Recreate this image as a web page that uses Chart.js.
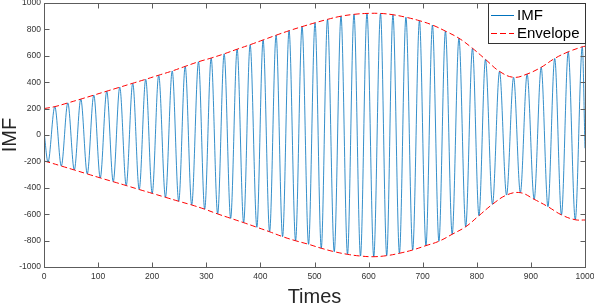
<!DOCTYPE html>
<html>
<head>
<meta charset="utf-8">
<script src="https://cdn.jsdelivr.net/npm/chart.js@4.4.1/dist/chart.umd.min.js"></script>
<style>
    html, body { margin: 0; padding: 0; background: #fff; }
</style>
</head>
<body>
<canvas id="imf_Chart" width="594" height="304"></canvas>
<script>
// values
const peakTimes   = [20, 44, 68, 92, 116, 140, 164, 188, 212, 237, 261, 285.6, 309, 333, 357, 381, 405, 429, 453, 477, 501, 524, 549, 573, 597, 622, 645, 669, 694, 718, 742, 767, 792, 816, 842, 868, 893, 919, 944, 969, 995];
const peakValues  = [215, 243, 272, 302, 332, 362, 392, 422, 453, 485, 520, 555, 583, 615, 650, 684, 720, 756, 790, 821, 850, 876, 900, 914, 921, 921, 911, 892, 866, 833, 787, 733, 657, 573, 482, 437, 462, 513, 580, 630, 668];
const troughTimes = [7.4, 32, 56, 80, 104, 128, 152, 176, 200, 224.5, 249, 273, 297, 321, 345, 369, 393.5, 417, 441, 465, 489, 512.5, 536.5, 561, 585, 609.5, 633.5, 657, 681.5, 706, 730, 754.5, 779.5, 804, 829, 855, 880.5, 906, 931.5, 956.5, 982];
const troughValues = [-205, -235, -265, -295, -325, -354, -383, -413, -442, -472, -502, -530, -562, -598, -631, -664, -699, -733, -770, -801, -828, -858, -884, -904, -917, -922, -914, -896, -871, -838, -805, -752, -695, -611, -525, -455, -437, -487, -543, -605, -642];
const imfEnds   = [30, -100];     // at t=0 and t=1000
const upperEnds = [200, 672];
const lowerEnds = [-197, -644];

const xTicks = [0, 100, 200, 300, 400, 500, 600, 700, 800, 900, 1000];
const yTicks = [-1000, -800, -600, -400, -200, 0, 200, 400, 600, 800, 1000];

const blue = 'rgb(0,114,189)';
const red = 'rgb(255,0,0)';
const axisGrey = '#5c5c5c';
const fontFam = '"Liberation Sans", Arial, sans-serif';

function pts(times, vals) {
    return times.map((t, i) => ({x: t, y: vals[i]}));
}

const imfData = [{x: 0, y: imfEnds[0]}]
    .concat(pts(peakTimes, peakValues), pts(troughTimes, troughValues))
    .concat([{x: 1000, y: imfEnds[1]}])
    .sort((a, b) => a.x - b.x);
const upperData = [{x: 0, y: upperEnds[0]}].concat(pts(peakTimes, peakValues), [{x: 1000, y: upperEnds[1]}]);
const lowerData = [{x: 0, y: lowerEnds[0]}].concat(pts(troughTimes, troughValues), [{x: 1000, y: lowerEnds[1]}]);

// matlab style box with inward ticks, plus the legend box
const framePlugin = {
    id: 'frame',
    afterDraw(chart) {
        const c = chart.ctx;
        const a = chart.chartArea;
        const L = Math.floor(a.left) + 0.5, R = Math.floor(a.right) + 0.5;
        const T = Math.floor(a.top) + 0.5, B = Math.floor(a.bottom) + 0.5;
        c.save();
        c.strokeStyle = axisGrey;
        c.lineWidth = 1;
        c.strokeRect(L, T, R - L, B - T);
        c.beginPath();
        xTicks.forEach(v => {
            const px = Math.round(chart.scales.x.getPixelForValue(v)) + 0.5;
            c.moveTo(px, B); c.lineTo(px, B - 5);
            c.moveTo(px, T); c.lineTo(px, T + 5);
        });
        yTicks.forEach(v => {
            const py = Math.round(chart.scales.y.getPixelForValue(v)) + 0.5;
            c.moveTo(L, py); c.lineTo(L + 5, py);
            c.moveTo(R, py); c.lineTo(R - 5, py);
        });
        c.stroke();

        // legend
        const bx = 488.5, by = T, bw = R - 488.5, bh = 40;
        c.fillStyle = '#fff';
        c.fillRect(bx, by, bw, bh);
        c.strokeStyle = '#333';
        c.strokeRect(bx, by, bw, bh);
        const rows = [
            {label: chart.data.datasets[0].label, color: blue, dash: [], y: 15.5},
            {label: chart.data.datasets[1].label, color: red, dash: [6, 3], y: 33.5}
        ];
        c.font = '15px ' + fontFam;
        c.textBaseline = 'middle';
        rows.forEach(r => {
            c.strokeStyle = r.color;
            c.setLineDash(r.dash);
            c.beginPath();
            c.moveTo(491, r.y); c.lineTo(514, r.y);
            c.stroke();
            c.setLineDash([]);
            c.fillStyle = '#000';
            c.fillText(r.label, 517, r.y);
        });
        c.restore();
    }
};

new Chart(document.getElementById('imf_Chart'), {
    type: 'line',
    data: {
        datasets: [
            {
                label: 'IMF',
                data: imfData,
                borderColor: blue,
                borderWidth: 0.8,
                pointRadius: 0,
                cubicInterpolationMode: 'monotone',
                order: 2
            },
            {
                label: 'Envelope',
                data: upperData,
                borderColor: red,
                borderWidth: 1,
                borderDash: [6, 3],
                pointRadius: 0,
                tension: 0.4,
                order: 1
            },
            {
                label: 'Envelope',
                data: lowerData,
                borderColor: red,
                borderWidth: 1,
                borderDash: [6, 3],
                pointRadius: 0,
                tension: 0.4,
                order: 1
            }
        ]
    },
    options: {
        responsive: false,
        animation: false,
        devicePixelRatio: 1,
        layout: { padding: { left: 0, right: 9, top: 3, bottom: 0 } },
        plugins: {
            legend: { display: false },
            tooltip: { enabled: false }
        },
        scales: {
            x: {
                type: 'linear',
                min: 0,
                max: 1000,
                afterBuildTicks: s => { s.ticks = xTicks.map(v => ({value: v})); },
                afterFit: s => { s.height = 37; s.paddingLeft = 0; s.paddingRight = 0; },
                grid: { display: false, drawTicks: false },
                border: { display: false },
                ticks: {
                    padding: 5,
                    maxRotation: 0,
                    autoSkip: false,
                    color: '#333',
                    callback: v => String(v),
                    font: { family: fontFam, size: 8.5 }
                },
                title: {
                    display: true,
                    text: 'Times',
                    color: '#262626',
                    padding: 0,
                    font: { family: fontFam, size: 20, lineHeight: 0.7 }
                }
            },
            y: {
                min: -1000,
                max: 1000,
                afterBuildTicks: s => { s.ticks = yTicks.map(v => ({value: v})); },
                afterFit: s => { s.width = 44; s.paddingTop = 0; s.paddingBottom = 0; },
                grid: { display: false, drawTicks: false },
                border: { display: false },
                ticks: {
                    padding: 3,
                    autoSkip: false,
                    color: '#333',
                    callback: v => String(v),
                    font: { family: fontFam, size: 8.5 }
                },
                title: {
                    display: true,
                    text: 'IMF',
                    color: '#262626',
                    padding: 0,
                    font: { family: fontFam, size: 20, lineHeight: 1 }
                }
            }
        }
    },
    plugins: [framePlugin]
});
</script>
</body>
</html>
